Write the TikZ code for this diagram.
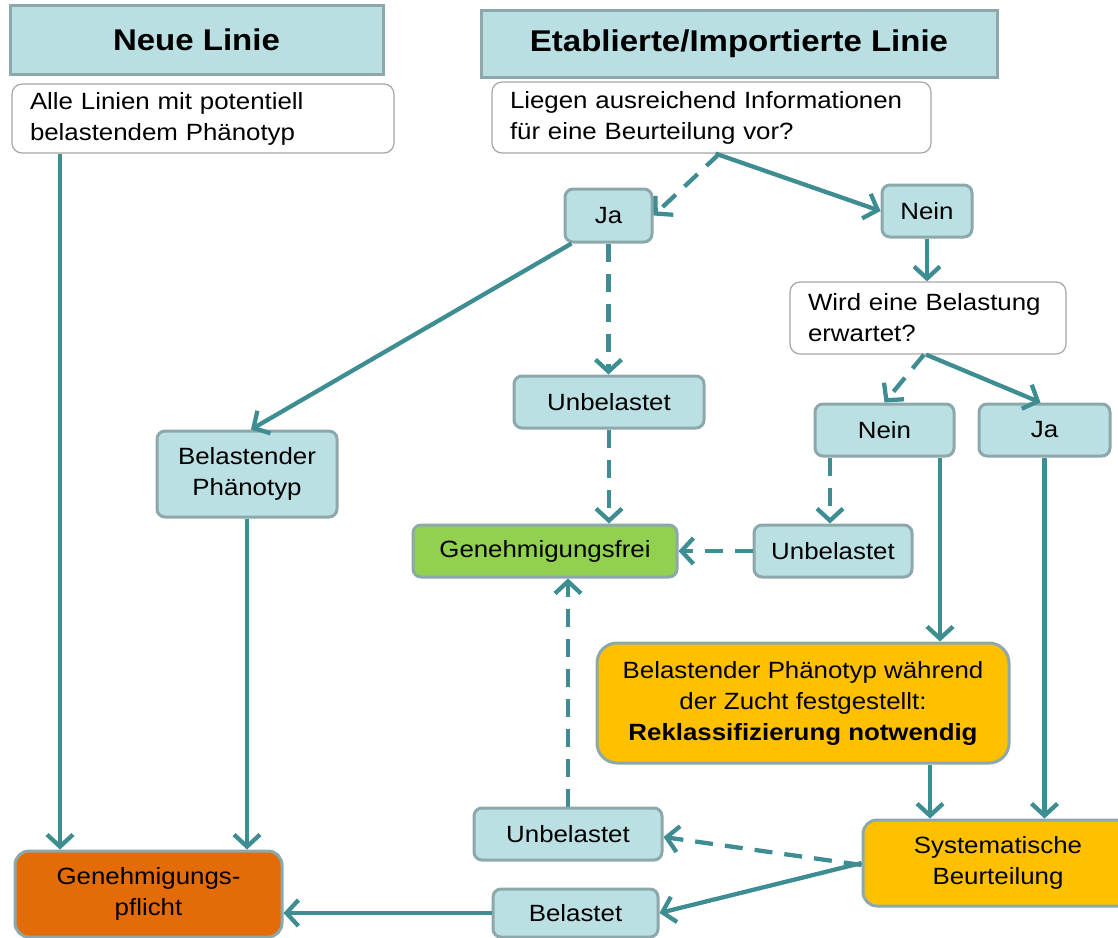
\documentclass[tikz,border=0pt]{standalone}
\usepackage{fontspec}
\setmainfont{Liberation Sans}[FakeStretch=1.1]
\usetikzlibrary{arrows.meta}
\definecolor{hdrfill}{HTML}{B9DFE3}
\definecolor{boxfill}{HTML}{BAE0E4}
\definecolor{bordergray}{HTML}{8CA8AA}
\definecolor{linecol}{HTML}{3D8D93}
\definecolor{freigreen}{HTML}{92D050}
\definecolor{amber}{HTML}{FFC000}
\definecolor{darkorange}{HTML}{E36C09}
\tikzset{
  bodyfont/.style={font=\fontsize{23.5}{31}\selectfont},
  hdr/.style={rectangle, fill=hdrfill, draw=bordergray, line width=3pt,
    font=\bfseries\fontsize{30}{36}\selectfont, inner sep=0pt},
  bluebox/.style={rectangle, rounded corners=8pt, fill=boxfill, draw=bordergray,
    line width=3pt, align=center, bodyfont, inner sep=0pt},
  wbox/.style={rectangle, rounded corners=10pt, fill=white, draw=black!35,
    line width=1.2pt, align=left, bodyfont, inner sep=0pt},
  arr/.style={draw=linecol, line width=4.3pt, -{Straight Barb[length=12pt,width=26pt]}},
  dsh/.style={arr, dash pattern=on 18pt off 12pt},
}
\begin{document}
\begin{tikzpicture}[x=1pt,y=-1pt]
\useasboundingbox (0,0) rectangle (1118,937);
\clip (0,0) rectangle (1118,937);
% headers
\node[hdr, minimum width=373pt, minimum height=69pt] (hdr1) at (196.5,39.5) {Neue Linie};
\node[hdr, minimum width=516pt, minimum height=67pt] (hdr2) at (739,43.5) {Etablierte/Importierte Linie};
% question boxes
\node[wbox, minimum width=382pt, minimum height=69pt, text width=346pt] (alle) at (203,118.5)
  {Alle Linien mit potentiell\\belastendem Phänotyp};
\node[wbox, minimum width=439pt, minimum height=71pt, text width=403pt] (liegen) at (711.5,117.5)
  {Liegen ausreichend Informationen\\für eine Beurteilung vor?};
\node[wbox, minimum width=276pt, minimum height=72pt, text width=240pt] (wird) at (928,318)
  {Wird eine Belastung\\erwartet?};
% blue boxes
\node[bluebox, minimum width=87pt, minimum height=53pt] (ja1) at (608.5,215.5) {Ja};
\node[bluebox, minimum width=90pt, minimum height=52pt] (nein1) at (927,211) {Nein};
\node[bluebox, minimum width=190pt, minimum height=52pt] (unb1) at (609,402) {Unbelastet};
\node[bluebox, minimum width=139pt, minimum height=52pt] (nein2) at (884.5,430) {Nein};
\node[bluebox, minimum width=131pt, minimum height=52pt] (ja2) at (1044.5,430) {Ja};
\node[bluebox, minimum width=180pt, minimum height=86pt] (belpheno) at (247,474) {Belastender\\Phänotyp};
\node[bluebox, fill=freigreen, minimum width=264pt, minimum height=52pt] (frei) at (545,551) {Genehmigungsfrei};
\node[bluebox, minimum width=158pt, minimum height=52pt] (unb2) at (833,551) {Unbelastet};
\node[bluebox, fill=amber, rounded corners=20pt, minimum width=412pt, minimum height=120pt] (reklass) at (803,703)
  {Belastender Phänotyp während\\der Zucht festgestellt:\\\textbf{Reklassifizierung notwendig}};
\node[bluebox, minimum width=188pt, minimum height=52pt] (unb3) at (568,834) {Unbelastet};
% Systematische Beurteilung: box runs past the right edge of the picture
\draw[fill=amber, draw=bordergray, line width=3pt, rounded corners=14pt] (863,820) rectangle (1190,906);
\node[bluebox, draw=none, fill=none, minimum width=270pt, minimum height=86pt] (sys) at (998,863)
  {Systematische\\Beurteilung};
\node[bluebox, fill=darkorange, rounded corners=14pt, minimum width=267pt, minimum height=86pt] (pflicht) at (148.5,894)
  {Genehmigungs-\\pflicht};
\node[bluebox, minimum width=165pt, minimum height=48pt] (bel) at (575.5,913) {Belastet};
% connectors
\draw[arr] ([xshift=-143pt]alle.south) -- ([xshift=-143pt]alle.south |- pflicht.north);
\draw[arr] (belpheno.south) -- (belpheno.south |- pflicht.north);
\draw[arr] ([xshift=8pt]ja1.south west) -- ([xshift=4pt]belpheno.north);
\draw[dsh] ([xshift=8pt]liegen.south) -- (ja1.east);
\draw[arr] ([xshift=4pt]liegen.south) -- (nein1.west);
\draw[arr] (nein1.south) -- (nein1.south |- wird.north);
\draw[dsh] (ja1.south) -- (ja1.south |- unb1.north);
\draw[dsh] (unb1.south) -- (unb1.south |- frei.north);
\draw[dsh] ([xshift=-4pt]wird.south) -- (nein2.north);
\draw[arr] ([xshift=-2pt]wird.south) -- ([xshift=-4pt]ja2.north);
\draw[dsh] ([xshift=-54.5pt]nein2.south) -- ([xshift=-54.5pt]nein2.south |- unb2.north);
\draw[dsh] (unb2.west) -- (frei.east);
\draw[arr] ([xshift=55.5pt]nein2.south) -- ([xshift=55.5pt]nein2.south |- reklass.north);
\draw[arr] (ja2.south) -- (ja2.south |- sys.north);
\draw[arr] ([xshift=127pt]reklass.south) -- ([xshift=127pt]reklass.south |- sys.north);
\draw[dsh] ([yshift=-2pt]sys.west) -- ([yshift=-3pt]unb3.east);
\draw[arr] (sys.west) -- (bel.east);
\draw[dsh] (unb3.north) -- (unb3.north |- frei.south);
\draw[arr] (bel.west) -- (bel.west -| pflicht.east);
\end{tikzpicture}
\end{document}
